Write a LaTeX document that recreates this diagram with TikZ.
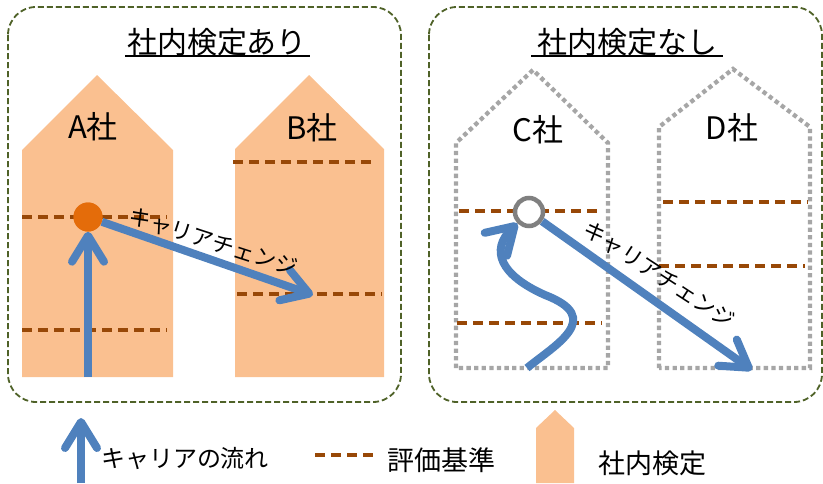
\documentclass[tikz,border=0pt]{standalone}
\usepackage{fontspec}
\setmainfont{Noto Sans CJK JP}
\usetikzlibrary{arrows.meta}
\definecolor{houseF}{HTML}{FAC090}
\definecolor{critB}{HTML}{984807}
\definecolor{careerB}{HTML}{4F81BD}
\definecolor{circO}{HTML}{E46C0A}
\definecolor{panelG}{HTML}{4F6228}
\definecolor{dotG}{HTML}{A6A6A6}
\definecolor{ringG}{HTML}{808080}
\begin{document}
\begin{tikzpicture}[x=1pt,y=-1pt,
  panel/.style={draw=panelG, line width=1.8pt, dash pattern=on 6pt off 3pt, rounded corners=28pt},
  housefill/.style={fill=houseF},
  housedot/.style={draw=dotG, line width=4.3pt, dash pattern=on 4.3pt off 3.3pt},
  crit/.style={draw=critB, line width=3.5pt, dash pattern=on 10pt off 6pt},
  cararrow/.style={draw=careerB, line width=8pt, -{Straight Barb[length=26pt,width=32pt,round]}},
  title/.style={inner sep=0pt, font=\fontsize{30}{30}\selectfont},
  cname/.style={inner sep=0pt, font=\fontsize{31}{31}\selectfont},
  chg/.style={inner sep=0pt, font=\fontsize{22}{22}\selectfont},
  legend/.style={inner sep=0pt, font=\fontsize{26}{26}\selectfont}]
\useasboundingbox (0,0) rectangle (823,483);
% panels
\draw[panel] (8,7) rectangle (401,402);
\draw[panel] (429,7) rectangle (822,402);
% titles
\node[title] (t1) at (217,42) {社内検定あり};
\node[title] (t2) at (627,42) {社内検定なし};
\draw[line width=1.6pt] (125,56) -- (310,56);
\draw[line width=1.6pt] (531,56) -- (723,56);
% houses
\fill[housefill] (22,377) -- (22,150) -- (97,75) -- (173,150) -- (173,377) -- cycle;
\fill[housefill] (235,377) -- (235,149) -- (309,75) -- (384,149) -- (384,377) -- cycle;
\draw[housedot] (456,368) -- (456,143) -- (533,70) -- (608,143) -- (608,368) -- cycle;
\draw[housedot] (659,368) -- (659,127) -- (733,69) -- (810,127) -- (810,368) -- cycle;
\fill[housefill] (536,483) -- (536,428) -- (555,410) -- (574,428) -- (574,483) -- cycle;
% company names
\node[cname] (na) at (93,127) {A社};
\node[cname] (nb) at (312,128) {B社};
\node[cname] (nc) at (538,130) {C社};
\node[cname] (nd) at (732,128) {D社};
% criteria lines
\draw[crit] (22,217) -- (167,217);
\draw[crit] (22,330) -- (167,330);
\draw[crit] (233,162) -- (377,162);
\draw[crit] (237,294) -- (382,294);
\draw[crit] (459,211) -- (603,211);
\draw[crit] (457,323) -- (602,323);
\draw[crit] (663,202) -- (808,202);
\draw[crit] (659,266) -- (805,266);
\draw[crit] (315,455) -- (373,455);
% nodes for career points
\node[circle, fill=circO, minimum size=29pt, inner sep=0pt] (aC) at (88,217) {};
\node[circle, draw=ringG, line width=4.5pt, fill=white, minimum size=28pt, inner sep=0pt] (cC) at (529,212) {};
\coordinate (aB) at (88,377);
\coordinate (bT) at (313,295);
\coordinate (cB) at (527,368);
\coordinate (dT) at (752,370);
\coordinate (lgB) at (81,483);
\coordinate (lgT) at (81,418);
% arrows
\draw[cararrow] (aB) -- (aC);
\draw[cararrow] (aC) -- (bT);
\draw[cararrow] (cB) .. controls (555,345) and (605,318) .. (545,295) .. controls (500,275) and (490,250) .. (cC);
\draw[cararrow] (cC) -- (dT);
\draw[cararrow] (lgB) -- (lgT);
\node[circle, fill=circO, minimum size=29pt, inner sep=0pt] at (aC) {};
% labels on arrows
\node[chg, rotate=-18] (l1) at (213,242) {キャリアチェンジ};
\node[chg, rotate=-33] (l2) at (659,275) {キャリアチェンジ};
% legend
\node[legend, font=\fontsize{24}{24}\selectfont] (lg1) at (185,458) {キャリアの流れ};
\node[legend, font=\fontsize{27}{27}\selectfont] (lg2) at (441,460) {評価基準};
\node[legend, font=\fontsize{27}{27}\selectfont] (lg3) at (652,463) {社内検定};
\end{tikzpicture}
\end{document}
